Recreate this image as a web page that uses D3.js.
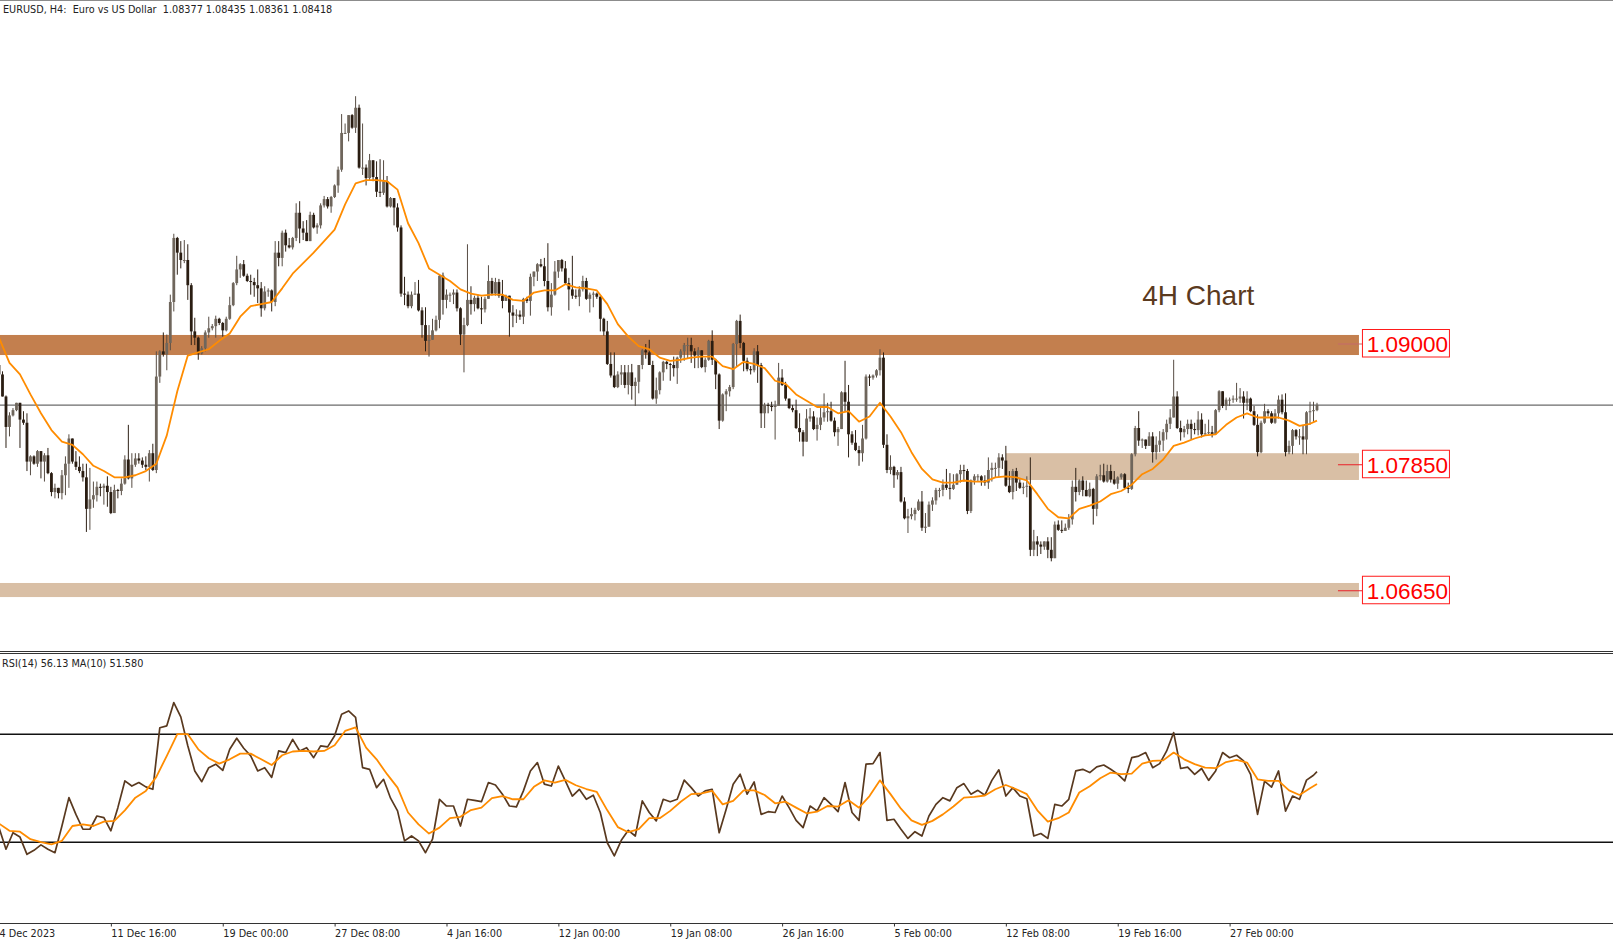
<!DOCTYPE html>
<html>
<head>
<meta charset="utf-8">
<style>
    html, body { margin: 0; padding: 0; background: #fff; overflow: hidden; }
    text { font-family: "DejaVu Sans", sans-serif; }
</style>
<script src="https://cdn.jsdelivr.net/npm/d3@7"></script>
</head>
<body>
<div id="chart"></div>
<script>
// prices are stored in pips above 1.0000, so 842 means 1.0842
const closes = [
    871, 850, 821, 832, 837, 844, 828, 825, 788, 793,
    786, 798, 788, 794, 777, 759, 763, 758, 775, 786,
    810, 788, 783, 779, 773, 743, 752, 756, 764, 763,
    765, 759, 739, 761, 760, 767, 790, 772, 785, 791,
    789, 785, 783, 796, 780, 869, 893, 890, 901, 940,
    1001, 987, 980, 980, 956, 912, 906, 891, 896, 911,
    915, 917, 924, 920, 913, 924, 937, 958, 971, 976,
    965, 960, 959, 956, 953, 934, 950, 951, 940, 987,
    982, 1006, 994, 992, 1001, 1025, 1010, 1006, 998, 1023,
    1011, 1013, 1032, 1038, 1031, 1040, 1051, 1066, 1101, 1101,
    1118, 1106, 1125, 1068, 1068, 1058, 1075, 1059, 1045, 1044,
    1055, 1031, 1039, 1030, 1011, 948, 947, 936, 947, 948,
    932, 918, 903, 904, 913, 923, 965, 942, 947, 947,
    949, 934, 909, 918, 942, 938, 944, 934, 933, 943,
    960, 948, 959, 946, 941, 946, 930, 927, 928, 926,
    943, 941, 964, 969, 976, 974, 960, 935, 947, 969,
    980, 972, 958, 952, 946, 945, 952, 960, 943, 947,
    948, 945, 924, 912, 881, 870, 859, 871, 873, 861,
    873, 860, 864, 880, 894, 892, 880, 848, 856, 873,
    883, 881, 880, 877, 887, 893, 899, 899, 893, 889,
    894, 878, 885, 903, 885, 871, 827, 852, 855, 859,
    900, 922, 901, 884, 876, 875, 893, 880, 834, 842,
    841, 840, 841, 868, 861, 848, 839, 837, 820, 816,
    807, 829, 831, 819, 823, 830, 835, 836, 827, 816,
    819, 854, 845, 814, 806, 799, 796, 810, 869, 868,
    870, 875, 887, 804, 780, 783, 775, 778, 750, 734,
    736, 738, 742, 750, 725, 726, 747, 751, 761, 761,
    766, 763, 762, 766, 776, 780, 779, 741, 770, 774,
    774, 770, 768, 780, 782, 782, 792, 789, 765, 759,
    779, 768, 763, 764, 765, 704, 712, 709, 707, 712,
    704, 696, 728, 723, 722, 725, 733, 764, 759, 770,
    761, 755, 762, 743, 774, 775, 769, 779, 771, 767,
    773, 776, 763, 762, 795, 820, 808, 809, 803, 812,
    797, 804, 808, 816, 824, 830, 850, 820, 816, 819,
    824, 819, 818, 828, 814, 815, 816, 814, 837, 855,
    841, 847, 847, 848, 848, 850, 844, 848, 836, 823,
    797, 825, 836, 834, 825, 834, 847, 835, 797, 803,
    818, 812, 812, 809, 835, 836, 837, 842
];
const highs = [
    876, 874, 851, 835, 839, 844, 844, 836, 834, 794,
    794, 799, 798, 796, 801, 778, 767, 763, 780, 793,
    814, 810, 798, 793, 786, 786, 782, 769, 769, 767,
    767, 774, 764, 766, 762, 772, 794, 823, 796, 796,
    796, 792, 793, 799, 805, 893, 894, 911, 909, 947,
    1005, 1002, 998, 999, 995, 958, 925, 907, 898, 913,
    926, 919, 927, 925, 921, 926, 945, 959, 984, 977,
    980, 967, 966, 963, 971, 959, 955, 953, 952, 998,
    998, 1008, 1009, 1001, 1002, 1034, 1036, 1017, 1018, 1026,
    1025, 1015, 1034, 1041, 1040, 1041, 1052, 1069, 1119, 1110,
    1118, 1119, 1136, 1128, 1110, 1071, 1081, 1075, 1074, 1076,
    1075, 1060, 1040, 1032, 1034, 1013, 964, 950, 950, 959,
    961, 935, 935, 918, 924, 927, 966, 968, 952, 949,
    952, 952, 935, 925, 995, 955, 946, 947, 945, 945,
    975, 963, 963, 962, 961, 947, 946, 937, 933, 932,
    944, 945, 967, 969, 977, 981, 982, 996, 958, 979,
    980, 981, 979, 963, 984, 952, 955, 965, 963, 949,
    950, 949, 946, 925, 922, 892, 892, 874, 880, 880,
    880, 881, 868, 880, 895, 900, 904, 884, 868, 874,
    884, 884, 882, 888, 888, 895, 901, 906, 906, 896,
    897, 888, 887, 904, 913, 886, 872, 853, 857, 861,
    901, 923, 928, 902, 887, 879, 896, 899, 882, 844,
    844, 845, 846, 882, 876, 864, 845, 842, 847, 834,
    818, 838, 839, 836, 830, 839, 853, 844, 845, 830,
    821, 855, 884, 861, 817, 818, 803, 823, 871, 871,
    871, 876, 895, 892, 814, 794, 784, 780, 783, 754,
    743, 744, 744, 752, 760, 739, 750, 754, 763, 763,
    771, 781, 777, 776, 777, 785, 785, 781, 771, 776,
    776, 775, 775, 792, 787, 787, 796, 795, 803, 779,
    781, 782, 771, 768, 774, 792, 723, 717, 712, 712,
    716, 716, 731, 732, 732, 729, 738, 770, 782, 771,
    774, 770, 768, 763, 776, 785, 786, 785, 785, 779,
    774, 777, 777, 768, 796, 822, 836, 810, 809, 816,
    816, 812, 817, 819, 828, 838, 885, 855, 827, 822,
    828, 828, 825, 836, 834, 824, 828, 822, 838, 856,
    855, 849, 849, 851, 863, 858, 855, 855, 849, 841,
    833, 827, 843, 838, 836, 838, 851, 852, 853, 808,
    819, 819, 819, 823, 836, 845, 845, 844
];
const lows = [
    860, 850, 801, 812, 831, 836, 801, 823, 779, 775,
    785, 783, 772, 769, 776, 755, 753, 753, 752, 756,
    763, 786, 780, 777, 769, 721, 723, 744, 750, 755,
    747, 745, 738, 739, 753, 756, 766, 771, 763, 783,
    786, 782, 780, 769, 779, 777, 863, 888, 875, 894,
    931, 966, 972, 977, 942, 899, 899, 885, 890, 893,
    906, 913, 906, 918, 907, 912, 923, 936, 956, 963,
    964, 959, 947, 945, 939, 926, 932, 945, 931, 936,
    974, 974, 988, 991, 990, 998, 996, 999, 998, 1009,
    1010, 1005, 1010, 1030, 1029, 1025, 1039, 1044, 1064, 1100,
    1093, 1105, 1101, 1067, 1061, 1051, 1056, 1055, 1040, 1040,
    1042, 1030, 1030, 1013, 1007, 945, 937, 934, 934, 947,
    931, 906, 893, 888, 904, 912, 915, 928, 934, 940,
    938, 931, 899, 873, 917, 928, 931, 933, 919, 930,
    946, 946, 946, 944, 934, 941, 907, 916, 920, 923,
    919, 939, 927, 955, 960, 973, 955, 931, 927, 946,
    963, 969, 957, 932, 943, 943, 936, 950, 942, 930,
    935, 943, 912, 908, 880, 868, 858, 858, 861, 858,
    852, 847, 841, 853, 876, 886, 880, 847, 843, 852,
    865, 876, 865, 869, 862, 882, 884, 886, 882, 877,
    877, 877, 873, 884, 880, 857, 819, 826, 836, 850,
    857, 879, 896, 874, 874, 871, 873, 863, 820, 820,
    834, 836, 809, 841, 860, 846, 838, 835, 819, 807,
    793, 807, 826, 818, 808, 818, 826, 826, 826, 812,
    803, 819, 836, 792, 804, 798, 784, 788, 809, 860,
    866, 868, 870, 801, 777, 776, 763, 771, 749, 733,
    720, 733, 732, 741, 722, 720, 726, 741, 747, 754,
    755, 761, 752, 761, 766, 768, 769, 738, 739, 766,
    769, 765, 765, 762, 769, 773, 773, 781, 764, 758,
    752, 760, 762, 757, 754, 698, 698, 698, 700, 704,
    696, 693, 704, 722, 720, 722, 723, 728, 750, 756,
    755, 755, 754, 728, 736, 770, 768, 768, 768, 766,
    762, 771, 762, 758, 761, 793, 803, 801, 800, 803,
    787, 790, 797, 798, 809, 819, 830, 819, 808, 811,
    814, 809, 814, 813, 811, 813, 814, 811, 820, 835,
    839, 837, 841, 844, 845, 844, 829, 837, 835, 822,
    793, 796, 824, 831, 824, 824, 829, 833, 793, 795,
    795, 809, 804, 795, 795, 823, 826, 836
];
const firstOpen = 880;

// moving average on price, read every third bar plus the last bar
const priceMa = [
    906, 882, 871, 852, 834, 818, 807, 804, 795, 784, 779, 773, 773, 775, 779, 786,
    813, 855, 889, 892, 895, 903, 910, 926, 936, 938, 940, 953, 967, 977, 987, 998,
    1009, 1033, 1053, 1056, 1056, 1055, 1047, 1015, 996, 972, 966,
    960, 952, 948, 946, 947, 947, 942, 941, 949, 951, 951, 957, 954, 953, 951, 938,
    919, 907, 898, 895, 887, 884, 885, 887, 888, 888, 879, 876, 883, 881, 877, 865,
    862, 852, 846, 840, 840, 834, 836, 826, 831,
    844, 831, 816, 797, 781, 771, 768, 768, 770, 769, 769, 773, 774, 773, 770, 757,
    743, 735, 734, 743, 746, 750, 757, 760, 766, 776, 781, 790, 803, 806, 810, 813,
    814, 823, 830, 834, 830, 830, 830, 827, 822, 824, 827
];

// RSI(14), read every second bar plus the last bar
const rsiValues = [
    35.4, 27.4, 33.5, 31.9, 25.5, 27, 29, 27.4, 26.1, 36, 46.5, 40.3, 34.8, 34.8, 39.7, 39.1,
    34.2, 42.8, 52.7, 50.8, 52.1, 50.5, 49.6, 72.4, 73.1, 81.7, 76.4, 65.7, 56.4, 52.4, 57.6, 58.9,
    56.6, 64.4, 68.5, 64.8, 62, 56.4, 57.6, 54, 63.8, 63.2, 68.1, 63.8, 65, 61.3, 65.7, 65.3,
    69.4, 77.4, 78.6, 76.2, 57.6, 57, 50.2, 53.3, 46.3, 41.6, 30.5, 32.3, 30.5, 26.1, 31.1, 45.9,
    43.4, 43.4, 36, 45.9, 45.5, 45, 52.1, 51.2, 47.8, 43.4, 43.1, 49, 56.4, 59.5, 51.5, 50.8,
    58.2, 52.7, 47.1, 49.6, 45.9, 47.4, 41, 29.8, 24.9, 30.7, 34.4, 32.3, 45.3, 41, 37.9, 45.9,
    45, 45.9, 53, 50.2, 47.1, 49, 49.6, 33.5, 42.2, 51.5, 55.2, 47.8, 52.3, 40.3, 41.3, 41,
    47.1, 42.8, 38.1, 35.4, 43.4, 41.6, 46.5, 44, 41.3, 52.1, 41, 38.1, 58.9,
    59.1, 63.2, 38.1, 38.5, 34.8, 31.4, 33.9, 32.3, 39.7, 44, 46.5, 45.3, 50.2, 51.7, 47.8, 49.2,
    47.4, 52.9, 56.8, 47.1, 50.2, 47.1, 46.1, 32.3, 33.2, 31.4, 44, 43.4, 45.9, 56.4, 57, 55.8,
    57.9, 58.6, 57, 55.2, 52.7, 61.3, 61.9, 63.2, 57.6, 59.1, 63.8, 70.6, 57.3, 57.8, 55.1, 57.3,
    52.9, 56.4, 63.2, 61.3, 62.2, 60.1, 55.1, 40.3, 52.6, 50.4, 56.4, 41.5, 47.1, 45.9,
    53, 54.8, 56.13
];

// MA(10) on the RSI, read every third bar plus the last bar
const rsiMa = [
    36.9, 34.2, 33.9, 31.1, 30, 29.2, 30.5, 36, 36.6, 36, 37.6, 37.9, 41.8, 46.5, 49, 54.2,
    62, 70, 70, 64.4, 61.1, 59.1, 60.7, 62.8, 62.8, 60.7, 58.6, 62.2, 63.6, 63.8, 63.6, 63.8,
    65.9, 71.2, 72.5, 65, 60.7, 55.2, 50.2, 41, 36.6, 33.2, 35.4,
    38.9, 39.4, 41.9, 42.8, 46.3, 47.1, 45.9, 45.9, 50.5, 52.9, 52.1, 53.1, 51.1, 49.7, 48.6, 41.8,
    35.6, 33.7, 34.8, 38.9, 38.9, 41.6, 45, 47.8, 48.1, 49, 44, 45.3, 49.2, 49.2, 47.5, 44.4,
    45, 42.8, 40.7, 41.3, 43.4, 43.2, 45.5, 42.8, 47.1,
    52.9, 47.8, 42.4, 38.1, 36.4, 37.9, 40.3, 43.2, 46.5, 46.8, 47.3, 49.6, 51.2, 49.6, 47.8, 41.8,
    37.6, 38.9, 41, 48.4, 50.7, 53.7, 55.8, 55.2, 55.4, 59.1, 60.1, 60.3, 63.2, 60.7, 58.9, 57.6,
    57.4, 59.7, 60.5, 59.5, 53.3, 52.7, 52.7, 49.2, 47.5, 50, 51.58
];

const bandTops = [908.6, 796, 672.4];
const bandBottoms = [889.5, 770.5, 659];
const bandStartBars = [0, 288, 0];
const bandColors = ["#c37f4e", "#d9bfa5", "#d9bfa5"];
const levelPrices = [900, 785, 665];
const levelLabels = ["1.09000", "1.07850", "1.06650"];
const rsiLevels = [70, 30];
const bidPrice = 841.8;
const tickLabels = ["4 Dec 2023", "11 Dec 16:00", "19 Dec 00:00", "27 Dec 08:00", "4 Jan 16:00", "12 Jan 00:00",
    "19 Jan 08:00", "26 Jan 16:00", "5 Feb 00:00", "12 Feb 08:00", "19 Feb 16:00", "27 Feb 00:00"];
const tickEvery = 32;
const titleText = "EURUSD, H4:  Euro vs US Dollar  1.08377 1.08435 1.08361 1.08418";
const rsiTitle = "RSI(14) 56.13 MA(10) 51.580";

const width = 1613, height = 939;
const lastBar = closes.length - 1;
const bandEndBar = 389, labelBar = 390, connectorBar = 383, noteBar = 327;

const x = d3.scaleLinear().domain([0, lastBar]).range([-1, 1317]);
const y = d3.scaleLinear().domain([900, 665]).range([344, 590.75]);
const yRsi = d3.scaleLinear().domain([70, 30]).range([734.2, 842.2]);

const svg = d3.select("#chart").append("svg")
    .attr("width", width)
    .attr("height", height)
    .style("display", "block");

// window frame lines, kept on whole pixels so they stay thin
[0.5, 651.5, 653.5].forEach(v => {
    svg.append("line")
        .attr("x1", 0).attr("x2", width)
        .attr("y1", v).attr("y2", v)
        .attr("stroke", v < 1 ? "#8c8c8c" : "#333")
        .attr("stroke-width", 1);
});

svg.append("text")
    .attr("x", 3).attr("y", 13)
    .attr("font-size", 9.7)
    .style("white-space", "pre")
    .attr("fill", "#222")
    .text(titleText);

// zones behind the candles
const bands = svg.append("g");
bandTops.forEach((top, i) => {
    bands.append("rect")
        .attr("x", x(bandStartBars[i]))
        .attr("y", y(top))
        .attr("width", x(bandEndBar) - x(bandStartBars[i]))
        .attr("height", y(bandBottoms[i]) - y(top))
        .attr("fill", bandColors[i]);
});

svg.append("line")
    .attr("x1", 0).attr("x2", width)
    .attr("y1", y(bidPrice)).attr("y2", y(bidPrice))
    .attr("stroke", "#6b6b6b")
    .attr("stroke-width", 1.2);

// candles; each open is taken from the close before it
const opens = [firstOpen].concat(closes.slice(0, -1));
const candles = svg.append("g");
closes.forEach((close, i) => {
    const open = opens[i];
    const top = Math.max(open, close), bottom = Math.min(open, close);
    const bull = close >= open;
    candles.append("line")
        .attr("x1", x(i)).attr("x2", x(i))
        .attr("y1", y(Math.max(highs[i], top)))
        .attr("y2", y(Math.min(lows[i], bottom)))
        .attr("stroke", bull ? "#574d44" : "#2e2116")
        .attr("stroke-width", 1);
    candles.append("rect")
        .attr("x", x(i) - 1.4)
        .attr("y", y(top))
        .attr("width", 2.8)
        .attr("height", Math.max(y(bottom) - y(top), 1))
        .attr("fill", bull ? "#6f665c" : "#2a1d12");
});

const sampledBars = step => d3.range(0, lastBar, step).concat(lastBar);

function drawSeries(values, step, yScale, color, strokeWidth) {
    const bars = sampledBars(step);
    const path = d3.line()
        .x((d, i) => x(bars[i]))
        .y(d => yScale(d));
    svg.append("path")
        .attr("d", path(values))
        .attr("fill", "none")
        .attr("stroke", color)
        .attr("stroke-width", strokeWidth)
        .attr("stroke-linejoin", "round");
}

drawSeries(priceMa, 3, y, "#ff8c00", 1.8);

svg.append("text")
    .attr("x", x(noteBar)).attr("y", 305)
    .attr("font-size", 28)
    .style("font-family", '"Liberation Sans", Arial, sans-serif')
    .attr("fill", "#5b3a1e")
    .text("4H Chart");

// price labels on the right
const labels = svg.append("g");
levelPrices.forEach((level, i) => {
    labels.append("line")
        .attr("x1", x(connectorBar)).attr("x2", x(labelBar))
        .attr("y1", y(level)).attr("y2", y(level))
        .attr("stroke", i === 0 ? "#c46a6a" : "#e8202a")
        .attr("stroke-width", 1);
    labels.append("rect")
        .attr("x", x(labelBar))
        .attr("y", y(level) - 14.5)
        .attr("width", 87)
        .attr("height", 27.5)
        .attr("fill", "#fff")
        .attr("stroke", "#ff1a1a")
        .attr("stroke-width", 1);
    labels.append("text")
        .attr("x", x(labelBar) + 45)
        .attr("y", y(level) + 8)
        .attr("text-anchor", "middle")
        .attr("font-size", 22.5)
        .style("font-family", '"Liberation Sans", Arial, sans-serif')
        .attr("fill", "#ff0000")
        .text(levelLabels[i]);
});

// RSI panel
svg.append("text")
    .attr("x", 2).attr("y", 667)
    .attr("font-size", 9.7)
    .attr("fill", "#222")
    .text(rsiTitle);

rsiLevels.forEach(level => {
    svg.append("line")
        .attr("x1", 0).attr("x2", width)
        .attr("y1", yRsi(level)).attr("y2", yRsi(level))
        .attr("stroke", "#111")
        .attr("stroke-width", 1.6);
});

drawSeries(rsiValues, 2, yRsi, "#59391f", 1.7);
drawSeries(rsiMa, 3, yRsi, "#ff8c00", 1.8);

// time axis
const axis = d3.axisBottom(x)
    .tickValues(tickLabels.map((d, i) => i * tickEvery))
    .tickFormat((d, i) => tickLabels[i])
    .tickSize(3)
    .tickSizeOuter(0);

const axisGroup = svg.append("g")
    .attr("transform", "translate(0,923.5)")
    .call(axis);
axisGroup.select(".domain")
    .attr("d", `M0,0H${width}`)
    .attr("stroke", "#333");
axisGroup.selectAll(".tick line").attr("stroke", "#333");
axisGroup.selectAll(".tick text")
    .attr("text-anchor", "start")
    .attr("x", 0)
    .attr("y", 7)
    .attr("font-size", 9.7)
    .attr("font-family", null)
    .attr("fill", "#222");
</script>
</body>
</html>
